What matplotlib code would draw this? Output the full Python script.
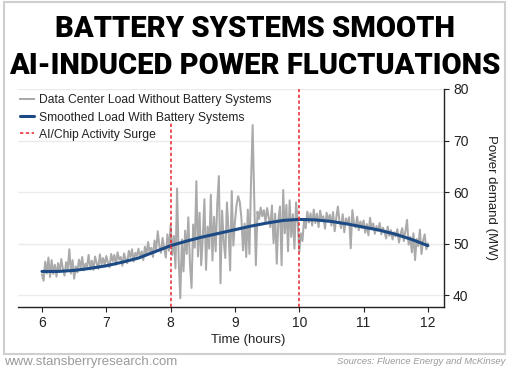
import numpy as np
import matplotlib
matplotlib.use("Agg")
import matplotlib.pyplot as plt
from matplotlib.patches import Rectangle

# ---- data ----
TITLE_1 = "BATTERY SYSTEMS SMOOTH"
TITLE_2 = "AI-INDUCED POWER FLUCTUATIONS"

# raw data center load (MW), evenly spaced from 6:00 to 12:00
load_raw = [
    44.0, 42.8, 46.5, 44.2, 47.3, 43.5, 46.8, 44.1, 45.9, 43.6,
    46.2, 44.5, 47.0, 45.1, 43.8, 46.4, 45.0, 48.9, 44.2, 46.8,
    43.2, 45.6, 44.4, 46.9, 45.3, 47.4, 44.8, 46.1, 45.5, 47.8,
    45.0, 46.7, 44.9, 47.5, 46.2, 45.1, 47.9, 46.0, 47.2, 45.8,
    47.6, 46.3, 45.4, 48.0, 46.6, 47.8, 45.9, 48.3, 46.9, 47.4,
    45.7, 48.1, 47.0, 46.2, 48.6, 47.3, 48.9, 46.5, 48.2, 47.6,
    49.0, 47.2, 48.5, 46.8, 49.4, 47.9, 50.3, 48.1, 49.2, 47.4,
    50.6, 48.8, 52.4, 49.5, 48.2, 51.1, 49.0, 47.3, 51.8, 48.6,
    53.6, 47.8, 51.5, 45.2, 60.7, 47.0, 39.4, 50.8, 44.6, 52.5,
    48.0, 55.1, 46.3, 41.4, 53.7, 49.2, 62.1, 47.5, 56.0, 45.8,
    51.2, 58.6, 44.9, 53.3, 49.0, 59.5, 46.7, 55.2, 48.5, 57.8,
    63.1, 42.3, 56.4, 50.4, 47.2, 58.0, 52.6, 44.8, 60.2, 49.6,
    54.3, 57.5, 59.2, 58.1, 55.0, 48.7, 53.9, 47.4, 56.6, 48.0,
    62.0, 73.0, 58.5, 45.8, 56.2, 54.8, 57.0, 55.3, 56.5, 54.2,
    56.9, 55.0, 53.2, 57.4, 50.1, 55.8, 46.1, 54.6, 57.2, 45.8,
    60.4, 52.0, 57.5, 48.5, 58.4, 51.3, 55.7, 49.0, 58.0, 54.5,
    48.4, 52.0, 50.5, 54.8, 53.0, 56.2, 54.1, 55.9, 53.5, 56.6,
    54.0, 55.8, 53.2, 56.4, 54.7, 55.3, 52.9, 56.0, 54.4, 55.6,
    53.5, 56.1, 52.4, 55.0, 57.2, 54.3, 53.0, 55.7, 52.2, 54.9,
    53.8, 55.1, 49.1, 56.5, 54.0, 53.1, 55.2, 52.6, 54.3, 53.0,
    54.5, 52.1, 53.8, 51.6, 55.0, 52.8, 53.9, 51.9, 53.4, 52.5,
    54.0, 51.8, 53.1, 52.3, 51.0, 53.3, 51.5, 52.6, 50.8, 52.2,
    51.4, 52.8, 50.2, 51.9, 53.0, 50.5, 52.4, 54.6, 49.8, 51.3,
    48.3, 52.0, 46.8, 50.9, 49.5, 52.7, 48.0, 50.6, 51.8, 48.9, 50.0,
]

# smoothed load with battery systems, every 15 minutes
smooth_hours = [6.0, 6.25, 6.5, 6.75, 7.0, 7.25, 7.5, 7.75, 8.0, 8.25, 8.5, 8.75,
                9.0, 9.25, 9.5, 9.75, 10.0, 10.25, 10.5, 10.75, 11.0, 11.25, 11.5, 11.75, 12.0]
load_smooth = [44.6, 44.6, 44.8, 45.2, 45.7, 46.4, 47.2, 48.4, 49.6, 50.5, 51.3, 52.0,
               52.7, 53.4, 54.0, 54.5, 54.7, 54.6, 54.3, 53.8, 53.2, 52.6, 51.8, 50.8, 49.6]

surge_hours = [8, 10]
surge_tops = [73.5, 80]

x_ticks = [6, 7, 8, 9, 10, 11, 12]
y_ticks = [40, 50, 60, 70, 80]

GRAY = "#aaaaab"
NAVY = "#1b4a84"
RED = "#e8232a"
BODY = ["Liberation Sans", "DejaVu Sans"]

plt.rcParams["font.family"] = BODY

W, H = 510, 371
fig = plt.figure(figsize=(W / 100, H / 100), dpi=100)
fig.patch.set_facecolor("white")

# light frame around the chart area
fig.add_artist(Rectangle((4 / W, 1 - 354 / H), 501 / W, 352 / H, transform=fig.transFigure,
                         fill=False, edgecolor="#cfcfcf", linewidth=1.5))

ax = fig.add_axes([18 / W, 1 - 307 / H, 426 / W, 218 / H])

hours_raw = np.linspace(6, 12, len(load_raw))
ax.plot(hours_raw, load_raw, color=GRAY, lw=1.45, label="Data Center Load Without Battery Systems", zorder=2)
ax.plot(smooth_hours, load_smooth, color=NAVY, lw=2.2, label="Smoothed Load With Battery Systems",
        zorder=3, solid_capstyle="round")
ax.vlines(surge_hours, 37.7, surge_tops, colors=RED, linestyles=(0, (2.2, 1.6)), lw=1.1,
          label="AI/Chip Activity Surge", zorder=4)

ax.set_xlim(5.627, 12.25)
ax.set_ylim(37.7, 80)
ax.set_xticks(x_ticks)
ax.set_yticks(y_ticks)
ax.yaxis.tick_right()
ax.grid(axis="y", color="#ebebeb", lw=1)
ax.set_axisbelow(True)
for s in ("left", "top"):
    ax.spines[s].set_visible(False)
for s in ("right", "bottom"):
    ax.spines[s].set_color("#222222")
    ax.spines[s].set_linewidth(1)
ax.tick_params(axis="both", length=3.5, width=0.8, color="#222222", labelsize=10,
               labelcolor="#222222", pad=3)

leg = ax.legend(loc="upper left", bbox_to_anchor=(0.004, 0.975), frameon=False, fontsize=8.75,
                handlelength=1.15, handletextpad=0.45, labelspacing=0.42, borderpad=0,
                borderaxespad=0)
for t in leg.get_texts():
    t.set_color("#222222")

fig.text(248 / W, 1 - 340 / H, "Time (hours)", ha="center", va="center", fontsize=9.5, color="#222222")
fig.text(491.5 / W, 1 - 197 / H, "Power demand (MW)", ha="center", va="center", rotation=270,
         fontsize=9.5, color="#222222")

TITLE_FONT = ["Roboto", "DejaVu Sans"]
fig.text(0.5, 1 - 37 / H, TITLE_1, ha="center", va="baseline", fontsize=21, fontweight="black",
         family=TITLE_FONT, color="black")
fig.text(0.5, 1 - 74 / H, TITLE_2, ha="center", va="baseline", fontsize=21, fontweight="black",
         family=TITLE_FONT, color="black")

fig.text(4 / W, 1 - 362 / H, "www.stansberryresearch.com", ha="left", va="center", fontsize=9.5,
         color="#9a9a9a")
fig.text(505 / W, 1 - 362 / H, "Sources: Fluence Energy and McKinsey", ha="right", va="center",
         fontsize=6.8, style="italic", color="#9a9a9a")

fig.savefig("out.png", dpi=100, facecolor="white")
